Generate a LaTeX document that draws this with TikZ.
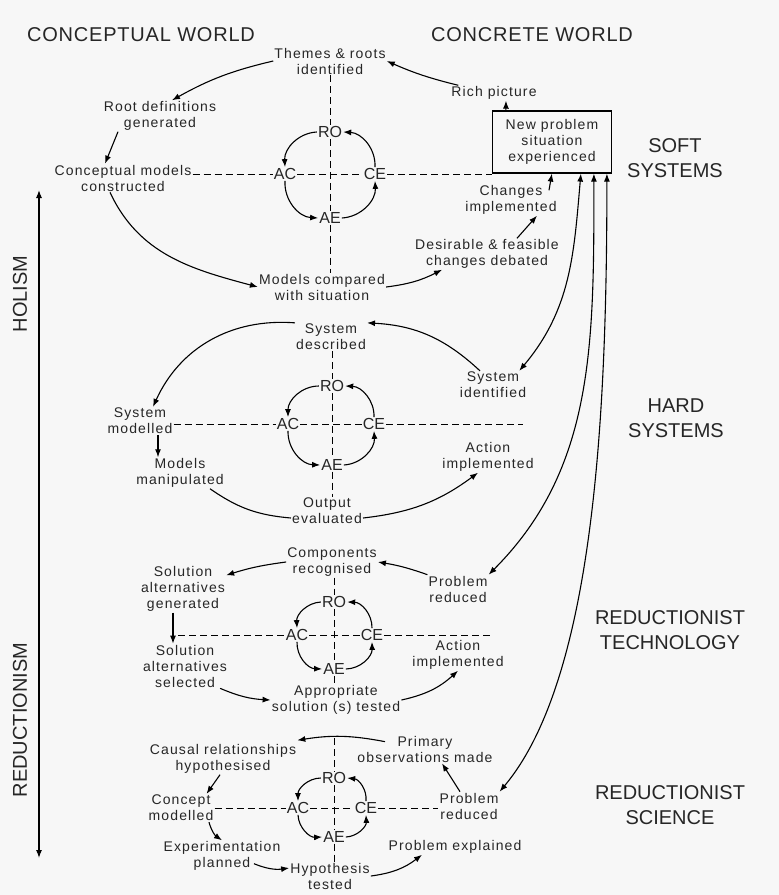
\documentclass[tikz,border=0pt]{standalone}
\usepackage{fontspec}
\setmainfont{Liberation Sans}
\newfontfamily\lblfont[LetterSpace=8]{Liberation Sans}
\newfontfamily\headfont[LetterSpace=4]{Liberation Sans}
\usetikzlibrary{arrows.meta}

\begin{document}
\begin{tikzpicture}[x=1pt, y=1pt,
  every node/.style={text=black!85},
  lbl/.style={align=center, inner sep=1pt, font=\lblfont\fontsize{14}{16}\selectfont},
  cyc/.style={inner sep=1pt, font=\fontsize{16}{18}\selectfont},
  head/.style={align=center, font=\fontsize{20}{25}\selectfont},
  arr/.style={-{Latex[length=8pt,width=6pt]}, line width=1.1pt},
  dbl/.style={{Latex[length=8pt,width=6pt]}-{Latex[length=8pt,width=6pt]}, line width=1.1pt},
  ln/.style={line width=1.1pt},
  dsh/.style={dash pattern=on 7pt off 4pt, line width=0.8pt},
  rnd/.style={arr, bend right=45}
]
\useasboundingbox[fill=black!3] (0,0) rectangle (779,-895);

\node[head, font=\headfont\fontsize{20}{25}\selectfont] (cw) at (141,-35) {CONCEPTUAL WORLD};
\node[head, font=\headfont\fontsize{20}{25}\selectfont] (kw) at (532,-35) {CONCRETE WORLD};
\node[head] (hsoft) at (675,-158) {SOFT\\SYSTEMS};
\node[head] (hhard) at (676,-418) {HARD\\SYSTEMS};
\node[head] (htech) at (670,-630) {REDUCTIONIST\\TECHNOLOGY};
\node[head] (hsci) at (670,-805) {REDUCTIONIST\\SCIENCE};
\node[head, rotate=90] (hol) at (20,-294) {HOLISM};
\node[head, rotate=90] (red) at (20,-720) {REDUCTIONISM};
\coordinate (axtop) at (39,-190);
\coordinate (axbot) at (39,-858);
\draw[dbl] (axtop) -- (axbot);

% soft systems
\node[lbl] (th) at (330,-61) {Themes \& roots\\identified};
\node[lbl] (rp) at (494,-93) {Rich picture};
\node[lbl, draw, line width=1.2pt, minimum width=119pt, minimum height=62pt] (box) at (552,-142) {New problem\\situation\\experienced};
\node[lbl] (rd) at (160,-116) {Root definitions\\generated};
\node[lbl] (cm) at (123,-178) {Conceptual models\\constructed};
\node[lbl] (ci) at (511,-200) {Changes\\implemented};
\node[lbl] (dfd) at (487,-254) {Desirable \& feasible\\changes debated};
\node[lbl] (mc) at (322,-287) {Models compared\\with situation};
\node[cyc] (ro1) at (330,-132) {RO};
\node[cyc] (ac1) at (285,-174) {AC};
\node[cyc] (ce1) at (375,-174) {CE};
\node[cyc] (ae1) at (330,-218) {AE};

\draw[arr] ([xshift=8pt]rp.north west) to[bend left=5] (th.east);
\draw[arr] ([xshift=14pt]box.north west) -- ([xshift=12pt]rp.south);
\draw[arr] (th.west) to[bend right=8] ([xshift=12pt]rd.north);
\draw[arr] ([xshift=-42pt]rd.south) -- ([xshift=-18pt]cm.north);
\draw[arr] ([xshift=-13pt]cm.south) to[out=-65, in=165] (mc.west);
\draw[arr] (mc.east) to[bend right=10] ([xshift=-45pt]dfd.south);
\draw[arr] ([xshift=30pt]dfd.north) -- ([xshift=26pt]ci.south);
\draw[arr] ([xshift=38pt,yshift=-6pt]ci.north) -- ([xshift=60pt]box.south west);
\path (ro1.west) edge[rnd] (ac1.north) (ac1.south) edge[rnd] (ae1.west)
  (ae1.east) edge[rnd] (ce1.south) (ce1.north) edge[rnd] (ro1.east);
\draw[dsh] (ro1 |- th.south) -- (ro1) (ro1) -- (ae1) (ae1) -- (ae1 |- mc.north);
\draw[dsh] (ac1 -| cm.east) -- (ac1) (ac1) -- (ce1) (ce1) -- (ce1 -| box.west);

% hard systems
\node[lbl] (sd) at (331,-337) {System\\described};
\node[lbl] (si) at (493,-385) {System\\identified};
\node[lbl] (sm) at (140,-421) {System\\modelled};
\node[lbl] (mm) at (180,-473) {Models\\manipulated};
\node[lbl] (ai2) at (488,-457) {Action\\implemented};
\node[lbl] (oe) at (327,-511) {Output\\evaluated};
\node[cyc] (ro2) at (332,-386) {RO};
\node[cyc] (ac2) at (288,-424) {AC};
\node[cyc] (ce2) at (374,-424) {CE};
\node[cyc] (ae2) at (332,-465) {AE};
\coordinate (e2) at (523,-424);

\draw[arr] ([xshift=-13pt]si.north) to[bend right=20] (sd.north east);
\draw[arr] (sd.north west) to[bend right=35] ([xshift=13pt]sm.north);
\draw[arr] ([xshift=18pt]sm.south) -- ([xshift=-22pt]mm.north);
\draw[ln] ([xshift=30pt]mm.south) to[bend right=15] ([yshift=-7pt]oe.west);
\draw[arr] ([yshift=-7pt]oe.east) to[bend right=15] ([xshift=-10pt]ai2.south);
\path (ro2.west) edge[rnd] (ac2.north) (ac2.south) edge[rnd] (ae2.west)
  (ae2.east) edge[rnd] (ce2.south) (ce2.north) edge[rnd] (ro2.east);
\draw[dsh] (ro2 |- sd.south) -- (ro2) (ro2) -- (ae2) (ae2) -- (ae2 |- oe.north);
\draw[dsh] (ac2 -| sm.east) -- (ac2) (ac2) -- (ce2) (ce2) -- (e2);

% reductionist technology
\node[lbl] (cr) at (332,-562) {Components\\recognised};
\node[lbl] (pr3) at (458,-589) {Problem\\reduced};
\node[lbl] (sg) at (183,-589) {Solution\\alternatives\\generated};
\node[lbl] (ss) at (185,-666) {Solution\\alternatives\\selected};
\node[lbl] (ai3) at (458,-655) {Action\\implemented};
\node[lbl] (ap) at (336,-700) {Appropriate\\solution (s) tested};
\node[cyc] (ro3) at (334,-602) {RO};
\node[cyc] (ac3) at (297,-635) {AC};
\node[cyc] (ce3) at (372,-635) {CE};
\node[cyc] (ae3) at (334,-669) {AE};
\coordinate (d3) at (178,-635);
\coordinate (e3) at (493,-635);

\draw[arr] (pr3.north west) to[bend right=5] (cr.east);
\draw[arr] (cr.west) to[bend right=5] ([yshift=-10pt]sg.north east);
\draw[arr] ([xshift=-10pt]sg.south) -- ([xshift=-12pt]ss.north);
\draw[arr] ([xshift=-8pt]ss.south east) to[bend right=10] (ap.west);
\draw[arr] (ap.east) to[bend right=15] (ai3.south);
\path (ro3.west) edge[rnd] (ac3.north) (ac3.south) edge[rnd] (ae3.west)
  (ae3.east) edge[rnd] (ce3.south) (ce3.north) edge[rnd] (ro3.east);
\draw[dsh] (ro3 |- cr.south) -- (ro3) (ro3) -- (ae3) (ae3) -- (ae3 |- ap.north);
\draw[dsh] (d3) -- (ac3) (ac3) -- (ce3) (ce3) -- (e3);

% reductionist science
\node[lbl] (po) at (425,-749) {Primary\\observations made};
\node[lbl] (crh) at (223,-759) {Causal relationships\\hypothesised};
\node[lbl] (cmod) at (181,-808) {Concept\\modelled};
\node[lbl] (pr4) at (469,-806) {Problem\\reduced};
\node[lbl] (ep) at (222,-856) {Experimentation\\planned};
\node[lbl] (ht) at (330,-876) {Hypothesis\\tested};
\node[lbl] (pe) at (455,-847) {Problem explained};
\node[cyc] (ro4) at (334,-778) {RO};
\node[cyc] (ac4) at (298,-808) {AC};
\node[cyc] (ce4) at (366,-808) {CE};
\node[cyc] (ae4) at (334,-837) {AE};
\coordinate (t4) at (334,-738);

\draw[arr] ([xshift=-9pt]pr4.north) -- ([xshift=17pt]po.south);
\draw[arr] ([xshift=-40pt,yshift=-7pt]po.north) to[bend right=10] ([yshift=3pt]crh.north east);
\draw[arr] ([xshift=-3pt]crh.south) -- ([xshift=-8pt]cmod.north east);
\draw[arr] ([xshift=28pt]cmod.south) to[bend right=20] (ep.north);
\draw[arr] ([xshift=32pt,yshift=8pt]ep.south) to[bend right=15] ([yshift=8pt]ht.west);
\draw[arr] (ht.east) to[bend right=15] ([xshift=-33pt]pe.south);
\path (ro4.west) edge[rnd] (ac4.north) (ac4.south) edge[rnd] (ae4.west)
  (ae4.east) edge[rnd] (ce4.south) (ce4.north) edge[rnd] (ro4.east);
\draw[dsh] (t4) -- (ro4) (ro4) -- (ae4) (ae4) -- (ae4 |- ht.north);
\draw[dsh] (ac4 -| cmod.east) -- (ac4) (ac4) -- (ce4) (ce4) -- (ce4 -| pr4.west);

% from the problem situation
\draw[dbl] ([xshift=89pt]box.south west) to[out=-95, in=50] ([xshift=-8pt]si.north east);
\draw[dbl] ([xshift=102pt]box.south west) to[out=-90, in=45, out distance=170pt, in distance=150pt] (pr3.north east);
\draw[dbl] ([xshift=115pt]box.south west) to[out=-90, in=50, out distance=230pt, in distance=150pt] (pr4.north east);
\end{tikzpicture}
\end{document}
